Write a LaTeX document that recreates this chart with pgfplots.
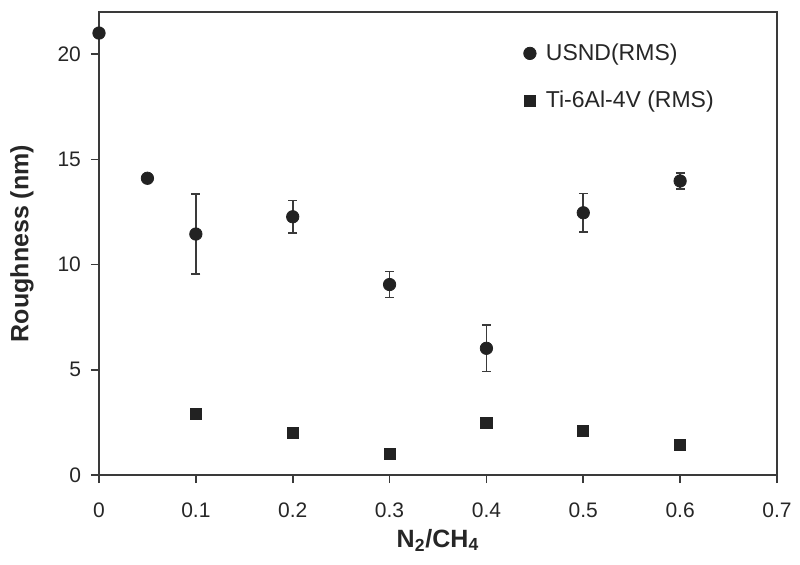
\documentclass[border=0pt]{standalone}
\usepackage{pgfplots}
\pgfplotsset{compat=1.18}
\usepackage{fontspec}
\setmainfont{Liberation Sans}
\definecolor{mk}{HTML}{222222}
\definecolor{ax}{HTML}{3A3A3A}
\begin{document}
\begin{tikzpicture}
\useasboundingbox (-49.5pt,-44.5pt) rectangle (350.5pt,237.5pt);
\begin{axis}[
  scale only axis, width=339pt, height=231.5pt,
  xmin=0, xmax=0.7, ymin=0, ymax=22,
  clip=false,
  axis line style={ax, line width=0.8pt},
  xtick={0,0.1,...,0.7}, ytick={0,5,10,15,20},
  tick align=outside, tick pos=left,
  major tick length=4pt,
  tick style={ax, line width=0.8pt},
  /pgf/number format/assume math mode=true,
  ticklabel style={font=\fontsize{10.5}{12}\selectfont, text=black!85},
  xticklabel={\pgfmathprintnumber[fixed,precision=1]{\tick}},
  xticklabel style={yshift=-6.5pt},
  yticklabel style={xshift=-1.5pt},
  xlabel={\textbf{N$_\mathbf{2}$/CH$_\mathbf{4}$}},
  ylabel={\textbf{Roughness (nm)}},
  label style={font=\fontsize{12.5}{14}\selectfont, text=black!85},
  xlabel style={at={(axis description cs:0.5,0)}, anchor=center, yshift=-32.5pt},
  ylabel style={at={(axis description cs:0,0.5)}, anchor=center, yshift=38.5pt},
  legend style={draw=none, fill=none, at={(0.617,0.95)}, anchor=north west,
    font=\fontsize{11.5}{13}\selectfont, row sep=10pt,
    legend cell align=left, text=black!85},
  legend image code/.code={\draw[#1] plot coordinates {(0.2cm,0cm)}; \path[draw=none,fill=none] (0.2cm,0) -- (0.2cm+6pt,0);},
]
\addplot[only marks, mark=*, mark size=3.1pt, color=mk,
  error bars/.cd, y dir=both, y explicit,
  error mark options={rotate=90, mark size=2.2pt, line width=0.8pt, ax},
  error bar style={line width=0.8pt, ax}]
coordinates {
(0,21.0) +- (0,0)
(0.05,14.1) +- (0,0)
(0.1,11.45) +- (0,1.9)
(0.2,12.27) +- (0,0.77)
(0.3,9.05) +- (0,0.62)
(0.4,6.02) +- (0,1.1)
(0.5,12.46) +- (0,0.92)
(0.6,13.97) +- (0,0.38)
};
\addlegendentry{USND(RMS)}
\addplot[only marks, mark=square*, mark size=2.8pt, color=mk]
coordinates {
(0.1,2.9)
(0.2,2.0)
(0.3,1.02)
(0.4,2.48)
(0.5,2.09)
(0.6,1.44)
};
\addlegendentry{Ti-6Al-4V (RMS)}
\end{axis}
\end{tikzpicture}
\end{document}
